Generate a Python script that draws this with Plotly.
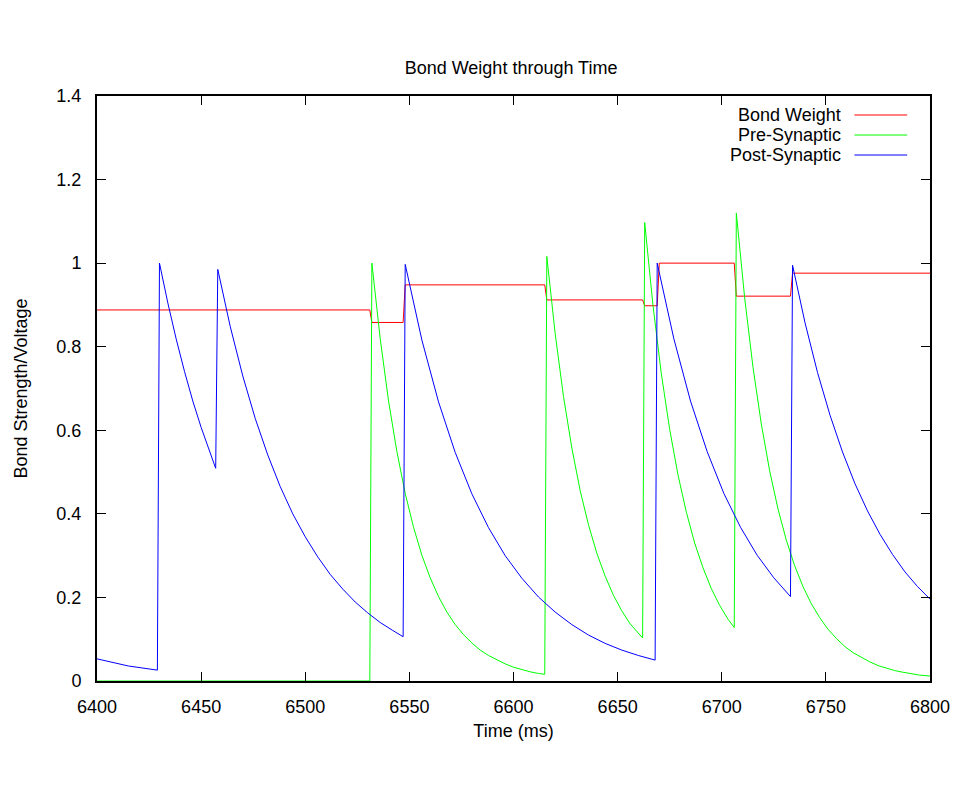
import plotly.graph_objects as go

# values (time in ms)
bond_t = [6400, 6531, 6532, 6547, 6548, 6615, 6616, 6662, 6663, 6669, 6670,
          6706, 6707, 6733, 6734, 6800]
bond_w = [0.888, 0.888, 0.858, 0.858, 0.948, 0.948, 0.912, 0.912, 0.898, 0.898, 1.0,
          1.0, 0.921, 0.921, 0.976, 0.976]

pre_t = [6400, 6531, 6532,
         6536, 6540, 6544, 6548, 6552, 6556, 6560, 6564, 6568, 6572, 6576, 6580,
         6584, 6588, 6592, 6596, 6600, 6604, 6608, 6612, 6615,
         6616, 6620, 6624, 6628, 6632, 6636, 6640, 6644, 6648, 6652, 6656, 6660, 6662,
         6663, 6667, 6671, 6675, 6679, 6683, 6687, 6691, 6695, 6699, 6703, 6706,
         6707, 6711, 6715, 6719, 6723, 6727, 6731, 6735, 6739, 6743, 6747, 6751,
         6755, 6759, 6763, 6767, 6771, 6775, 6779, 6783, 6787, 6791, 6795, 6800]
pre_v = [0.0, 0.0, 1.0,
         0.819, 0.670, 0.549, 0.449, 0.368, 0.301, 0.247, 0.202, 0.165, 0.135, 0.111, 0.091,
         0.074, 0.061, 0.050, 0.041, 0.033, 0.027, 0.022, 0.018, 0.016,
         1.016, 0.832, 0.681, 0.558, 0.456, 0.374, 0.306, 0.251, 0.205, 0.168, 0.137, 0.113, 0.103,
         1.097, 0.898, 0.735, 0.602, 0.493, 0.404, 0.330, 0.271, 0.221, 0.181, 0.148, 0.128,
         1.12, 0.917, 0.751, 0.615, 0.503, 0.412, 0.337, 0.276, 0.226, 0.185, 0.152, 0.124,
         0.102, 0.083, 0.068, 0.056, 0.046, 0.037, 0.031, 0.025, 0.021, 0.017, 0.014, 0.012]

post_t = [6400, 6415, 6429,
          6430, 6434, 6438, 6442, 6446, 6450, 6454, 6457,
          6458, 6464, 6470, 6476, 6482, 6488, 6494, 6500, 6506, 6512, 6518, 6524,
          6530, 6536, 6542, 6547,
          6548, 6556, 6564, 6572, 6580, 6588, 6596, 6604, 6612, 6620, 6628, 6636,
          6644, 6652, 6660, 6668,
          6669, 6677, 6685, 6693, 6701, 6709, 6717, 6725, 6733,
          6734, 6740, 6746, 6752, 6758, 6764, 6770, 6776, 6782, 6788, 6794, 6800]
post_v = [0.053, 0.036, 0.026,
          1.0, 0.905, 0.819, 0.741, 0.670, 0.607, 0.549, 0.509,
          0.985, 0.848, 0.730, 0.628, 0.541, 0.465, 0.400, 0.345, 0.297, 0.255, 0.220, 0.189,
          0.163, 0.140, 0.121, 0.106,
          0.997, 0.816, 0.668, 0.547, 0.448, 0.367, 0.300, 0.246, 0.201, 0.165, 0.135, 0.110,
          0.090, 0.074, 0.061, 0.050,
          1.0, 0.819, 0.670, 0.549, 0.449, 0.368, 0.301, 0.247, 0.202,
          0.995, 0.857, 0.738, 0.636, 0.548, 0.472, 0.407, 0.351, 0.303, 0.261, 0.226, 0.196]

series = [("Bond Weight", bond_t, bond_w, "#ff0000"),
          ("Pre-Synaptic", pre_t, pre_v, "#00ff00"),
          ("Post-Synaptic", post_t, post_v, "#0000ff")]

font = dict(family="Liberation Sans, Arial, sans-serif", size=18, color="black")

fig = go.Figure()
for name, t, v, col in series:
    fig.add_trace(go.Scatter(x=t, y=v, mode="lines", name=name,
                             line=dict(color=col, width=1), showlegend=False))

# gnuplot style key: text right aligned, line sample to the right
for i, (name, t, v, col) in enumerate(series):
    yk = 0.9675 - i * 0.0342
    fig.add_annotation(x=0.895, y=yk, xref="paper", yref="paper", text=name,
                       showarrow=False, xanchor="right", yanchor="middle", font=font)
    fig.add_shape(type="line", xref="paper", yref="paper", x0=0.9093, x1=0.9726,
                  y0=yk, y1=yk, line=dict(color=col, width=1))

axis = dict(showgrid=False, zeroline=False, showline=True, linecolor="black",
            linewidth=2, mirror="ticks", ticks="inside", ticklen=9,
            tickcolor="black", tickwidth=1, tickfont=font)

# page has an 8px body margin, so margins are shifted to compensate
fig.update_layout(
    width=960, height=800,
    paper_bgcolor="white", plot_bgcolor="white",
    margin=dict(l=84, r=38, t=88, b=127),
    font=font,
    title=dict(text="Bond Weight through Time", x=0.524, xanchor="center",
               y=1 - 60 / 800, yref="container", yanchor="middle", font=font),
    xaxis=dict(axis, range=[6400, 6800], dtick=50, tick0=6400,
               title=dict(text="Time (ms)", standoff=9, font=font),
               ticklabelstandoff=8),
    yaxis=dict(axis, range=[0, 1.4], dtick=0.2, tick0=0,
               title=dict(text="Bond Strength/Voltage", standoff=24, font=font),
               ticklabelstandoff=10),
)

fig.write_html("out.html")
